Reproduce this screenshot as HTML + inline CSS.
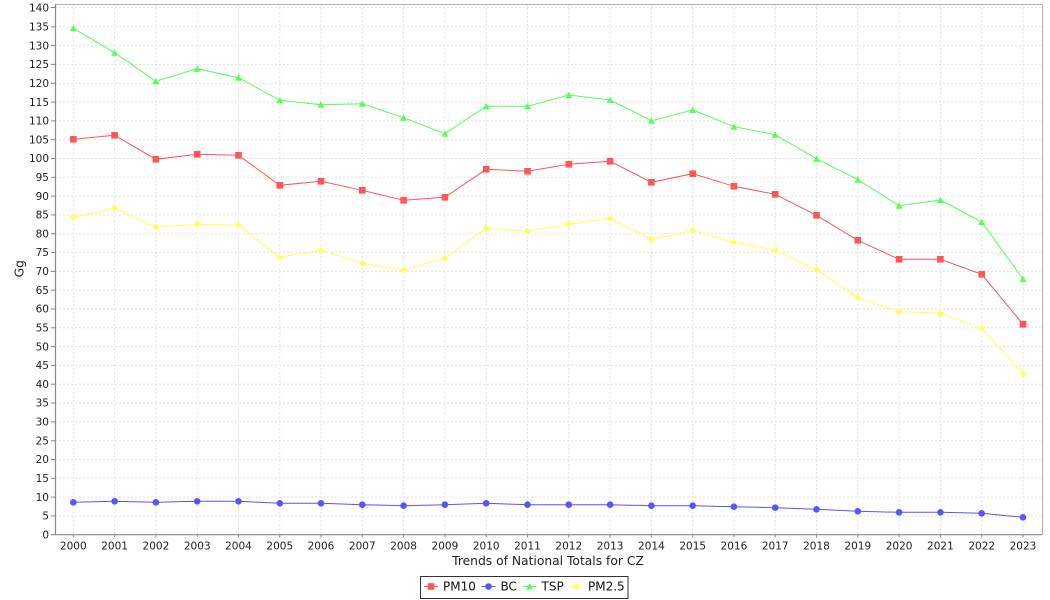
<!DOCTYPE html>
<html>
<head>
<meta charset="utf-8">
<style>
  html, body { margin: 0; padding: 0; background: #ffffff; }
  body { width: 1050px; height: 600px; overflow: hidden; }
  svg { display: block; font-family: "DejaVu Sans", "Liberation Sans", sans-serif; }
</style>
</head>
<body>
<svg width="1050" height="600" viewBox="0 0 1050 600" xmlns="http://www.w3.org/2000/svg">
  <defs>
    <rect id="sq" x="-3.3" y="-3.3" width="6.6" height="6.6" fill="#FF5555"/>
    <circle id="ci" cx="0" cy="0" r="3.3" fill="#5555FF"/>
    <path id="tr" d="M0,-3.4 L3.4,3 L-3.4,3 Z" fill="#55FF55"/>
    <path id="di" d="M0,-3.4 L3.4,0 L0,3.4 L-3.4,0 Z" fill="#FFFF55"/>
  </defs>
  <rect x="0" y="0" width="1050" height="600" fill="#ffffff"/>
  <rect x="55" y="4.3" width="987.3" height="530.4" fill="#ffffff"/>

  <!-- horizontal grid -->
  <g stroke="#e2e2e2" stroke-width="1" stroke-dasharray="2,2" fill="none">
    <line x1="55" x2="1042" y1="515.9" y2="515.9"/>
    <line x1="55" x2="1042" y1="497.1" y2="497.1"/>
    <line x1="55" x2="1042" y1="478.3" y2="478.3"/>
    <line x1="55" x2="1042" y1="459.5" y2="459.5"/>
    <line x1="55" x2="1042" y1="440.7" y2="440.7"/>
    <line x1="55" x2="1042" y1="421.8" y2="421.8"/>
    <line x1="55" x2="1042" y1="403.0" y2="403.0"/>
    <line x1="55" x2="1042" y1="384.2" y2="384.2"/>
    <line x1="55" x2="1042" y1="365.4" y2="365.4"/>
    <line x1="55" x2="1042" y1="346.6" y2="346.6"/>
    <line x1="55" x2="1042" y1="327.8" y2="327.8"/>
    <line x1="55" x2="1042" y1="309.0" y2="309.0"/>
    <line x1="55" x2="1042" y1="290.2" y2="290.2"/>
    <line x1="55" x2="1042" y1="271.4" y2="271.4"/>
    <line x1="55" x2="1042" y1="252.5" y2="252.5"/>
    <line x1="55" x2="1042" y1="233.7" y2="233.7"/>
    <line x1="55" x2="1042" y1="214.9" y2="214.9"/>
    <line x1="55" x2="1042" y1="196.1" y2="196.1"/>
    <line x1="55" x2="1042" y1="177.3" y2="177.3"/>
    <line x1="55" x2="1042" y1="158.5" y2="158.5"/>
    <line x1="55" x2="1042" y1="139.7" y2="139.7"/>
    <line x1="55" x2="1042" y1="120.9" y2="120.9"/>
    <line x1="55" x2="1042" y1="102.1" y2="102.1"/>
    <line x1="55" x2="1042" y1="83.3" y2="83.3"/>
    <line x1="55" x2="1042" y1="64.4" y2="64.4"/>
    <line x1="55" x2="1042" y1="45.6" y2="45.6"/>
    <line x1="55" x2="1042" y1="26.8" y2="26.8"/>
    <line x1="55" x2="1042" y1="7.5" y2="7.5"/>
  </g>
  <!-- vertical grid -->
  <g stroke="#e2e2e2" stroke-width="1" stroke-dasharray="2,2" fill="none">
    <line y1="4.3" y2="534.7" x1="73.3" x2="73.3"/>
    <line y1="4.3" y2="534.7" x1="114.6" x2="114.6"/>
    <line y1="4.3" y2="534.7" x1="155.9" x2="155.9"/>
    <line y1="4.3" y2="534.7" x1="197.2" x2="197.2"/>
    <line y1="4.3" y2="534.7" x1="238.5" x2="238.5"/>
    <line y1="4.3" y2="534.7" x1="279.8" x2="279.8"/>
    <line y1="4.3" y2="534.7" x1="321.0" x2="321.0"/>
    <line y1="4.3" y2="534.7" x1="362.3" x2="362.3"/>
    <line y1="4.3" y2="534.7" x1="403.6" x2="403.6"/>
    <line y1="4.3" y2="534.7" x1="444.9" x2="444.9"/>
    <line y1="4.3" y2="534.7" x1="486.2" x2="486.2"/>
    <line y1="4.3" y2="534.7" x1="527.5" x2="527.5"/>
    <line y1="4.3" y2="534.7" x1="568.8" x2="568.8"/>
    <line y1="4.3" y2="534.7" x1="610.1" x2="610.1"/>
    <line y1="4.3" y2="534.7" x1="651.4" x2="651.4"/>
    <line y1="4.3" y2="534.7" x1="692.7" x2="692.7"/>
    <line y1="4.3" y2="534.7" x1="733.9" x2="733.9"/>
    <line y1="4.3" y2="534.7" x1="775.2" x2="775.2"/>
    <line y1="4.3" y2="534.7" x1="816.5" x2="816.5"/>
    <line y1="4.3" y2="534.7" x1="857.8" x2="857.8"/>
    <line y1="4.3" y2="534.7" x1="899.1" x2="899.1"/>
    <line y1="4.3" y2="534.7" x1="940.4" x2="940.4"/>
    <line y1="4.3" y2="534.7" x1="981.7" x2="981.7"/>
    <line y1="4.3" y2="534.7" x1="1023.0" x2="1023.0"/>
  </g>

  <!-- plot outline -->
  <line x1="55" y1="4.5" x2="1042.5" y2="4.5" stroke="#b0b0b0" stroke-width="1"/>
  <line x1="1042.5" y1="4.5" x2="1042.5" y2="534.7" stroke="#b0b0b0" stroke-width="1"/>
  <!-- axes -->
  <line x1="55.5" y1="4" x2="55.5" y2="535" stroke="#888888" stroke-width="1.2"/>
  <line x1="55" y1="534.7" x2="1042.5" y2="534.7" stroke="#888888" stroke-width="1.2"/>

  <!-- y ticks -->
  <g stroke="#888888" stroke-width="1">
    <line x1="51" x2="55" y1="534.7" y2="534.7"/>
    <line x1="51" x2="55" y1="515.9" y2="515.9"/>
    <line x1="51" x2="55" y1="497.1" y2="497.1"/>
    <line x1="51" x2="55" y1="478.3" y2="478.3"/>
    <line x1="51" x2="55" y1="459.5" y2="459.5"/>
    <line x1="51" x2="55" y1="440.7" y2="440.7"/>
    <line x1="51" x2="55" y1="421.8" y2="421.8"/>
    <line x1="51" x2="55" y1="403.0" y2="403.0"/>
    <line x1="51" x2="55" y1="384.2" y2="384.2"/>
    <line x1="51" x2="55" y1="365.4" y2="365.4"/>
    <line x1="51" x2="55" y1="346.6" y2="346.6"/>
    <line x1="51" x2="55" y1="327.8" y2="327.8"/>
    <line x1="51" x2="55" y1="309.0" y2="309.0"/>
    <line x1="51" x2="55" y1="290.2" y2="290.2"/>
    <line x1="51" x2="55" y1="271.4" y2="271.4"/>
    <line x1="51" x2="55" y1="252.5" y2="252.5"/>
    <line x1="51" x2="55" y1="233.7" y2="233.7"/>
    <line x1="51" x2="55" y1="214.9" y2="214.9"/>
    <line x1="51" x2="55" y1="196.1" y2="196.1"/>
    <line x1="51" x2="55" y1="177.3" y2="177.3"/>
    <line x1="51" x2="55" y1="158.5" y2="158.5"/>
    <line x1="51" x2="55" y1="139.7" y2="139.7"/>
    <line x1="51" x2="55" y1="120.9" y2="120.9"/>
    <line x1="51" x2="55" y1="102.1" y2="102.1"/>
    <line x1="51" x2="55" y1="83.3" y2="83.3"/>
    <line x1="51" x2="55" y1="64.4" y2="64.4"/>
    <line x1="51" x2="55" y1="45.6" y2="45.6"/>
    <line x1="51" x2="55" y1="26.8" y2="26.8"/>
    <line x1="51" x2="55" y1="7.5" y2="7.5"/>
  </g>
  <!-- x ticks -->
  <g stroke="#888888" stroke-width="1">
    <line y1="535" y2="537.5" x1="73.3" x2="73.3"/>
    <line y1="535" y2="537.5" x1="114.6" x2="114.6"/>
    <line y1="535" y2="537.5" x1="155.9" x2="155.9"/>
    <line y1="535" y2="537.5" x1="197.2" x2="197.2"/>
    <line y1="535" y2="537.5" x1="238.5" x2="238.5"/>
    <line y1="535" y2="537.5" x1="279.8" x2="279.8"/>
    <line y1="535" y2="537.5" x1="321.0" x2="321.0"/>
    <line y1="535" y2="537.5" x1="362.3" x2="362.3"/>
    <line y1="535" y2="537.5" x1="403.6" x2="403.6"/>
    <line y1="535" y2="537.5" x1="444.9" x2="444.9"/>
    <line y1="535" y2="537.5" x1="486.2" x2="486.2"/>
    <line y1="535" y2="537.5" x1="527.5" x2="527.5"/>
    <line y1="535" y2="537.5" x1="568.8" x2="568.8"/>
    <line y1="535" y2="537.5" x1="610.1" x2="610.1"/>
    <line y1="535" y2="537.5" x1="651.4" x2="651.4"/>
    <line y1="535" y2="537.5" x1="692.7" x2="692.7"/>
    <line y1="535" y2="537.5" x1="733.9" x2="733.9"/>
    <line y1="535" y2="537.5" x1="775.2" x2="775.2"/>
    <line y1="535" y2="537.5" x1="816.5" x2="816.5"/>
    <line y1="535" y2="537.5" x1="857.8" x2="857.8"/>
    <line y1="535" y2="537.5" x1="899.1" x2="899.1"/>
    <line y1="535" y2="537.5" x1="940.4" x2="940.4"/>
    <line y1="535" y2="537.5" x1="981.7" x2="981.7"/>
    <line y1="535" y2="537.5" x1="1023.0" x2="1023.0"/>
  </g>

  <!-- y tick labels -->
  <g font-size="10.5" fill="#222222" text-anchor="end">
    <text x="49" y="538.4">0</text>
    <text x="49" y="519.6">5</text>
    <text x="49" y="500.8">10</text>
    <text x="49" y="482.0">15</text>
    <text x="49" y="463.2">20</text>
    <text x="49" y="444.4">25</text>
    <text x="49" y="425.5">30</text>
    <text x="49" y="406.7">35</text>
    <text x="49" y="387.9">40</text>
    <text x="49" y="369.1">45</text>
    <text x="49" y="350.3">50</text>
    <text x="49" y="331.5">55</text>
    <text x="49" y="312.7">60</text>
    <text x="49" y="293.9">65</text>
    <text x="49" y="275.1">70</text>
    <text x="49" y="256.2">75</text>
    <text x="49" y="237.4">80</text>
    <text x="49" y="218.6">85</text>
    <text x="49" y="199.8">90</text>
    <text x="49" y="181.0">95</text>
    <text x="49" y="162.2">100</text>
    <text x="49" y="143.4">105</text>
    <text x="49" y="124.6">110</text>
    <text x="49" y="105.8">115</text>
    <text x="49" y="87.0">120</text>
    <text x="49" y="68.1">125</text>
    <text x="49" y="49.3">130</text>
    <text x="49" y="30.5">135</text>
    <text x="49" y="11.5">140</text>
  </g>

  <!-- x tick labels -->
  <g font-size="10.5" fill="#222222" text-anchor="middle">
    <text x="73.3" y="549.3">2000</text>
    <text x="114.6" y="549.3">2001</text>
    <text x="155.9" y="549.3">2002</text>
    <text x="197.2" y="549.3">2003</text>
    <text x="238.5" y="549.3">2004</text>
    <text x="279.8" y="549.3">2005</text>
    <text x="321.0" y="549.3">2006</text>
    <text x="362.3" y="549.3">2007</text>
    <text x="403.6" y="549.3">2008</text>
    <text x="444.9" y="549.3">2009</text>
    <text x="486.2" y="549.3">2010</text>
    <text x="527.5" y="549.3">2011</text>
    <text x="568.8" y="549.3">2012</text>
    <text x="610.1" y="549.3">2013</text>
    <text x="651.4" y="549.3">2014</text>
    <text x="692.7" y="549.3">2015</text>
    <text x="733.9" y="549.3">2016</text>
    <text x="775.2" y="549.3">2017</text>
    <text x="816.5" y="549.3">2018</text>
    <text x="857.8" y="549.3">2019</text>
    <text x="899.1" y="549.3">2020</text>
    <text x="940.4" y="549.3">2021</text>
    <text x="981.7" y="549.3">2022</text>
    <text x="1023.0" y="549.3">2023</text>
  </g>

  <!-- axis labels -->
  <text x="548" y="565" font-size="12.3" fill="#222222" text-anchor="middle">Trends of National Totals for CZ</text>
  <text transform="translate(23.5,268.7) rotate(-90)" font-size="12.3" fill="#222222" text-anchor="middle">Gg</text>

  <!-- series lines -->
  <g fill="none" stroke-width="1">
    <polyline stroke="#55FF55" points="73.3,28.3 114.6,52.7 155.9,81.3 197.2,68.7 238.5,77.7 279.8,100.3 321.0,104.7 362.3,103.7 403.6,117.7 444.9,133.7 486.2,106.3 527.5,106.3 568.8,95 610.1,100 651.4,120.7 692.7,110 733.9,126.7 775.2,134.7 816.5,158.7 857.8,179.7 899.1,205.7 940.4,200 981.7,222 1023.0,279"/>
    <polyline stroke="#FF5555" points="73.3,139.3 114.6,135.3 155.9,159.3 197.2,154.3 238.5,155.3 279.8,185.3 321.0,181.3 362.3,190.3 403.6,200.3 444.9,197.3 486.2,169.3 527.5,171.3 568.8,164.3 610.1,161.3 651.4,182.3 692.7,173.7 733.9,186.3 775.2,194.3 816.5,215.3 857.8,240.3 899.1,259.3 940.4,259.3 981.7,274.3 1023.0,324.3"/>
    <polyline stroke="#FFFF55" points="73.3,217.3 114.6,208.3 155.9,227.3 197.2,224.3 238.5,225.3 279.8,257.3 321.0,250.3 362.3,263.3 403.6,270.3 444.9,258.3 486.2,228.3 527.5,231.3 568.8,224.3 610.1,218.3 651.4,239.3 692.7,230.3 733.9,242.3 775.2,250.3 816.5,269.7 857.8,297.7 899.1,311.7 940.4,313.3 981.7,328.3 1023.0,373.7"/>
    <polyline stroke="#5555FF" points="73.3,502.3 114.6,501.3 155.9,502.3 197.2,501.3 238.5,501.3 279.8,503.3 321.0,503.3 362.3,504.7 403.6,505.7 444.9,504.7 486.2,503.3 527.5,504.7 568.8,504.7 610.1,504.7 651.4,505.7 692.7,505.7 733.9,506.7 775.2,507.7 816.5,509.3 857.8,511.3 899.1,512.3 940.4,512.3 981.7,513.3 1023.0,517.3"/>
  </g>

  <!-- markers TSP -->
  <g>
    <use href="#tr" x="73.3" y="28.3"/><use href="#tr" x="114.6" y="52.7"/><use href="#tr" x="155.9" y="81.3"/><use href="#tr" x="197.2" y="68.7"/>
    <use href="#tr" x="238.5" y="77.7"/><use href="#tr" x="279.8" y="100.3"/><use href="#tr" x="321.0" y="104.7"/><use href="#tr" x="362.3" y="103.7"/>
    <use href="#tr" x="403.6" y="117.7"/><use href="#tr" x="444.9" y="133.7"/><use href="#tr" x="486.2" y="106.3"/><use href="#tr" x="527.5" y="106.3"/>
    <use href="#tr" x="568.8" y="95"/><use href="#tr" x="610.1" y="100"/><use href="#tr" x="651.4" y="120.7"/><use href="#tr" x="692.7" y="110"/>
    <use href="#tr" x="733.9" y="126.7"/><use href="#tr" x="775.2" y="134.7"/><use href="#tr" x="816.5" y="158.7"/><use href="#tr" x="857.8" y="179.7"/>
    <use href="#tr" x="899.1" y="205.7"/><use href="#tr" x="940.4" y="200"/><use href="#tr" x="981.7" y="222"/><use href="#tr" x="1023.0" y="279"/>
  </g>
  <!-- markers PM10 -->
  <g>
    <use href="#sq" x="73.3" y="139.3"/><use href="#sq" x="114.6" y="135.3"/><use href="#sq" x="155.9" y="159.3"/><use href="#sq" x="197.2" y="154.3"/>
    <use href="#sq" x="238.5" y="155.3"/><use href="#sq" x="279.8" y="185.3"/><use href="#sq" x="321.0" y="181.3"/><use href="#sq" x="362.3" y="190.3"/>
    <use href="#sq" x="403.6" y="200.3"/><use href="#sq" x="444.9" y="197.3"/><use href="#sq" x="486.2" y="169.3"/><use href="#sq" x="527.5" y="171.3"/>
    <use href="#sq" x="568.8" y="164.3"/><use href="#sq" x="610.1" y="161.3"/><use href="#sq" x="651.4" y="182.3"/><use href="#sq" x="692.7" y="173.7"/>
    <use href="#sq" x="733.9" y="186.3"/><use href="#sq" x="775.2" y="194.3"/><use href="#sq" x="816.5" y="215.3"/><use href="#sq" x="857.8" y="240.3"/>
    <use href="#sq" x="899.1" y="259.3"/><use href="#sq" x="940.4" y="259.3"/><use href="#sq" x="981.7" y="274.3"/><use href="#sq" x="1023.0" y="324.3"/>
  </g>
  <!-- markers PM2.5 -->
  <g>
    <use href="#di" x="73.3" y="217.3"/><use href="#di" x="114.6" y="208.3"/><use href="#di" x="155.9" y="227.3"/><use href="#di" x="197.2" y="224.3"/>
    <use href="#di" x="238.5" y="225.3"/><use href="#di" x="279.8" y="257.3"/><use href="#di" x="321.0" y="250.3"/><use href="#di" x="362.3" y="263.3"/>
    <use href="#di" x="403.6" y="270.3"/><use href="#di" x="444.9" y="258.3"/><use href="#di" x="486.2" y="228.3"/><use href="#di" x="527.5" y="231.3"/>
    <use href="#di" x="568.8" y="224.3"/><use href="#di" x="610.1" y="218.3"/><use href="#di" x="651.4" y="239.3"/><use href="#di" x="692.7" y="230.3"/>
    <use href="#di" x="733.9" y="242.3"/><use href="#di" x="775.2" y="250.3"/><use href="#di" x="816.5" y="269.7"/><use href="#di" x="857.8" y="297.7"/>
    <use href="#di" x="899.1" y="311.7"/><use href="#di" x="940.4" y="313.3"/><use href="#di" x="981.7" y="328.3"/><use href="#di" x="1023.0" y="373.7"/>
  </g>
  <!-- markers BC -->
  <g>
    <use href="#ci" x="73.3" y="502.3"/><use href="#ci" x="114.6" y="501.3"/><use href="#ci" x="155.9" y="502.3"/><use href="#ci" x="197.2" y="501.3"/>
    <use href="#ci" x="238.5" y="501.3"/><use href="#ci" x="279.8" y="503.3"/><use href="#ci" x="321.0" y="503.3"/><use href="#ci" x="362.3" y="504.7"/>
    <use href="#ci" x="403.6" y="505.7"/><use href="#ci" x="444.9" y="504.7"/><use href="#ci" x="486.2" y="503.3"/><use href="#ci" x="527.5" y="504.7"/>
    <use href="#ci" x="568.8" y="504.7"/><use href="#ci" x="610.1" y="504.7"/><use href="#ci" x="651.4" y="505.7"/><use href="#ci" x="692.7" y="505.7"/>
    <use href="#ci" x="733.9" y="506.7"/><use href="#ci" x="775.2" y="507.7"/><use href="#ci" x="816.5" y="509.3"/><use href="#ci" x="857.8" y="511.3"/>
    <use href="#ci" x="899.1" y="512.3"/><use href="#ci" x="940.4" y="512.3"/><use href="#ci" x="981.7" y="513.3"/><use href="#ci" x="1023.0" y="517.3"/>
  </g>

  <!-- legend -->
  <rect x="420.5" y="576.5" width="207.5" height="22" fill="#ffffff" stroke="#333333" stroke-width="1"/>
  <g stroke-width="1">
    <line x1="424" y1="586.5" x2="438" y2="586.5" stroke="#FF5555"/>
    <use href="#sq" x="431" y="586.5"/>
    <line x1="481.5" y1="586.5" x2="495.5" y2="586.5" stroke="#5555FF"/>
    <use href="#ci" x="488.5" y="586.5"/>
    <line x1="522.5" y1="586.5" x2="536.5" y2="586.5" stroke="#55FF55"/>
    <use href="#tr" x="529.5" y="586.5"/>
    <line x1="569" y1="586.5" x2="583" y2="586.5" stroke="#FFFF55"/>
    <use href="#di" x="576" y="586.5"/>
  </g>
  <g font-size="12" fill="#111111">
    <text x="443" y="590.7">PM10</text>
    <text x="500.5" y="590.7">BC</text>
    <text x="541.5" y="590.7">TSP</text>
    <text x="588" y="590.7">PM2.5</text>
  </g>
</svg>
</body>
</html>
